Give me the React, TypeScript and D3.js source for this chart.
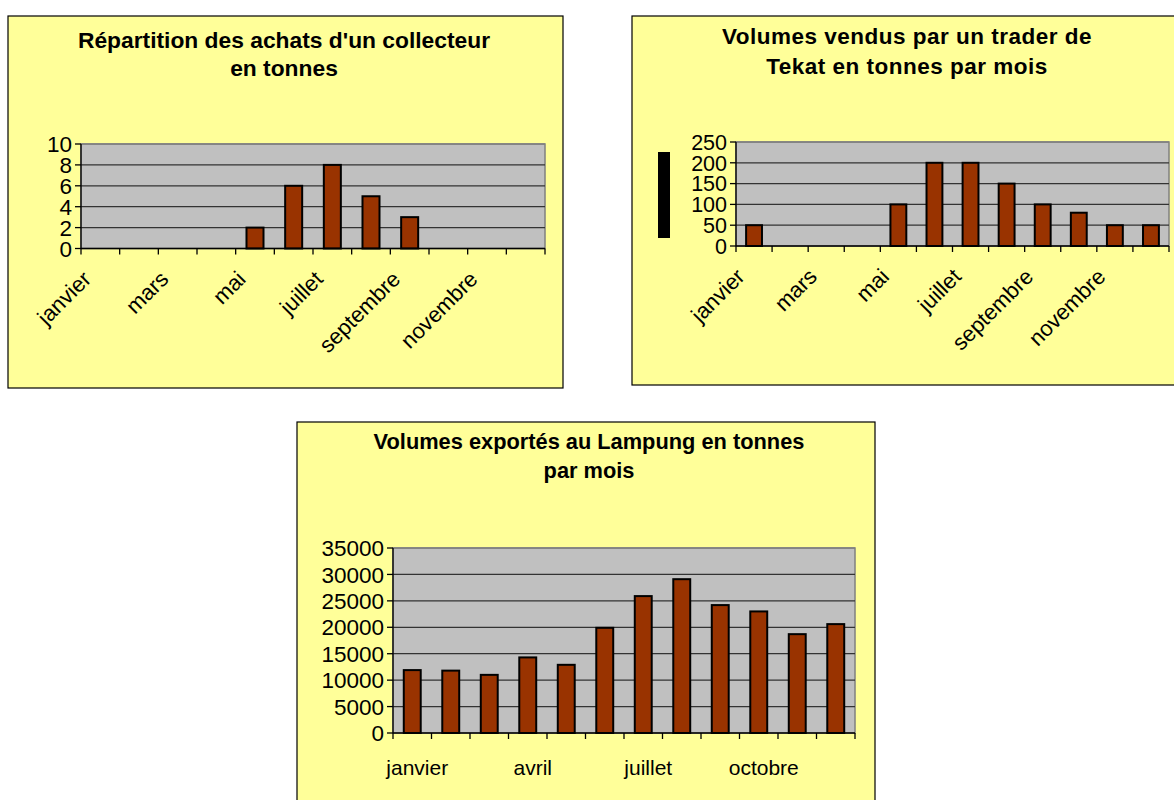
import React from "react";
import { scaleBand, scaleLinear } from "d3";

// monthly data
const months = [
  "janvier", "février", "mars", "avril", "mai", "juin",
  "juillet", "août", "septembre", "octobre", "novembre", "décembre",
];
const collecteurValues = [0, 0, 0, 0, 2, 6, 8, 5, 3, 0, 0, 0];
const traderValues = [50, 0, 0, 0, 100, 200, 200, 150, 100, 80, 50, 50];
const exportValues = [11900, 11800, 11000, 14300, 12900, 19900, 25900, 29100, 24200, 23000, 18700, 20600];

const collecteurTicks = [0, 2, 4, 6, 8, 10];
const traderTicks = [0, 50, 100, 150, 200, 250];
const exportTicks = [0, 5000, 10000, 15000, 20000, 25000, 30000, 35000];

const collecteurTitle = ["Répartition des achats d'un collecteur", "en tonnes"];
const traderTitle = ["Volumes vendus par un trader de", "Tekat en tonnes par mois"];
const exportTitle = ["Volumes exportés au Lampung en tonnes", "par mois"];

const FONT = "'Liberation Sans', Arial, sans-serif";
const BAR = "#993300";

type PanelProps = {
  frame: { x: number; y: number; w: number; h: number };
  plot: { left: number; top: number; right: number; bottom: number };
  title: string[];
  titleX: number;
  titleY: number[];
  titleSize: number;
  titleSpacing?: number;
  values: number[];
  ticks: number[];
  tickSize: number;
  labelEvery: number;
  rotated: boolean;
  labelY?: number;
};

const Panel = (p: PanelProps) => {
  const { plot } = p;
  const x = scaleBand<string>().domain(months).range([plot.left, plot.right]).padding(0);
  const y = scaleLinear()
    .domain([0, p.ticks[p.ticks.length - 1]])
    .range([plot.bottom, plot.top]);
  const bw = x.bandwidth();
  const barW = bw * 0.44;

  return (
    <g>
      <rect x={p.frame.x} y={p.frame.y} width={p.frame.w} height={p.frame.h}
        fill="#FFFF99" stroke="#000" strokeWidth={1.2} />
      {p.title.map((t, i) => (
        <text key={i} x={p.titleX} y={p.titleY[i]} textAnchor="middle"
          fontFamily={FONT} fontWeight="bold" fontSize={p.titleSize}
          letterSpacing={p.titleSpacing || 0}>{t}</text>
      ))}
      <rect x={plot.left} y={plot.top} width={plot.right - plot.left}
        height={plot.bottom - plot.top} fill="#C0C0C0" stroke="#808080" strokeWidth={1.5} />
      {p.ticks.slice(1).map((t) => (
        <line key={t} x1={plot.left} x2={plot.right} y1={y(t)} y2={y(t)}
          stroke={t === p.ticks[p.ticks.length - 1] ? "#808080" : "#333"} strokeWidth={1.3} />
      ))}
      {p.values.map((v, i) =>
        v > 0 ? (
          <rect key={i} x={x(months[i])! + (bw - barW) / 2} y={y(v)}
            width={barW} height={y(0) - y(v)} fill={BAR} stroke="#000" strokeWidth={2} />
        ) : null
      )}
      {/* y axis */}
      <line x1={plot.left} x2={plot.left} y1={plot.top} y2={plot.bottom} stroke="#000" strokeWidth={1.3} />
      {p.ticks.map((t) => (
        <g key={t}>
          <line x1={plot.left - 6} x2={plot.left} y1={y(t)} y2={y(t)} stroke="#000" strokeWidth={1.3} />
          <text x={plot.left - 9} y={y(t)} dy="0.36em" textAnchor="end"
            fontFamily={FONT} fontSize={p.tickSize}>{t}</text>
        </g>
      ))}
      {/* x axis */}
      <line x1={plot.left} x2={plot.right} y1={plot.bottom} y2={plot.bottom} stroke="#000" strokeWidth={1.5} />
      {months.map((m) => (
        <line key={m} x1={x(m)!} x2={x(m)!} y1={plot.bottom} y2={plot.bottom + 6} stroke="#000" strokeWidth={1.3} />
      ))}
      <line x1={plot.right} x2={plot.right} y1={plot.bottom} y2={plot.bottom + 6} stroke="#000" strokeWidth={1.3} />
      {months.map((m, i) => {
        if (i % p.labelEvery !== 0) return null;
        const cx = x(m)! + bw / 2;
        if (p.rotated) {
          const ax = cx - 8;
          const ay = plot.bottom + 32;
          return (
            <text key={m} transform={`translate(${ax},${ay}) rotate(-45)`} textAnchor="end"
              fontFamily={FONT} fontSize={22}>{m}</text>
          );
        }
        return (
          <text key={m} x={cx + 5} y={p.labelY} textAnchor="middle"
            fontFamily={FONT} fontSize={21}>{m}</text>
        );
      })}
    </g>
  );
};

export default function App() {
  return (
    <svg width={1174} height={800} style={{ position: "absolute", left: 0, top: 0, background: "#fff" }}>
      <Panel
        frame={{ x: 8, y: 16, w: 555, h: 372 }}
        plot={{ left: 81, top: 144, right: 545, bottom: 248.5 }}
        title={collecteurTitle}
        titleX={284}
        titleY={[48, 76]}
        titleSize={22.8}
        values={collecteurValues}
        ticks={collecteurTicks}
        tickSize={22.5}
        labelEvery={2}
        rotated={true}
      />
      <Panel
        frame={{ x: 632, y: 16, w: 600, h: 369 }}
        plot={{ left: 736, top: 142, right: 1169, bottom: 246 }}
        title={traderTitle}
        titleX={907}
        titleY={[44, 74]}
        titleSize={22.5}
        titleSpacing={0.5}
        values={traderValues}
        ticks={traderTicks}
        tickSize={21.5}
        labelEvery={2}
        rotated={true}
      />
      <rect x={658} y={152} width={12} height={86} fill="#000" />
      <Panel
        frame={{ x: 297, y: 422, w: 578, h: 420 }}
        plot={{ left: 393, top: 548, right: 855, bottom: 733 }}
        title={exportTitle}
        titleX={589}
        titleY={[449, 478]}
        titleSize={21.8}
        values={exportValues}
        ticks={exportTicks}
        tickSize={22.5}
        labelEvery={3}
        rotated={false}
        labelY={775}
      />
    </svg>
  );
}
